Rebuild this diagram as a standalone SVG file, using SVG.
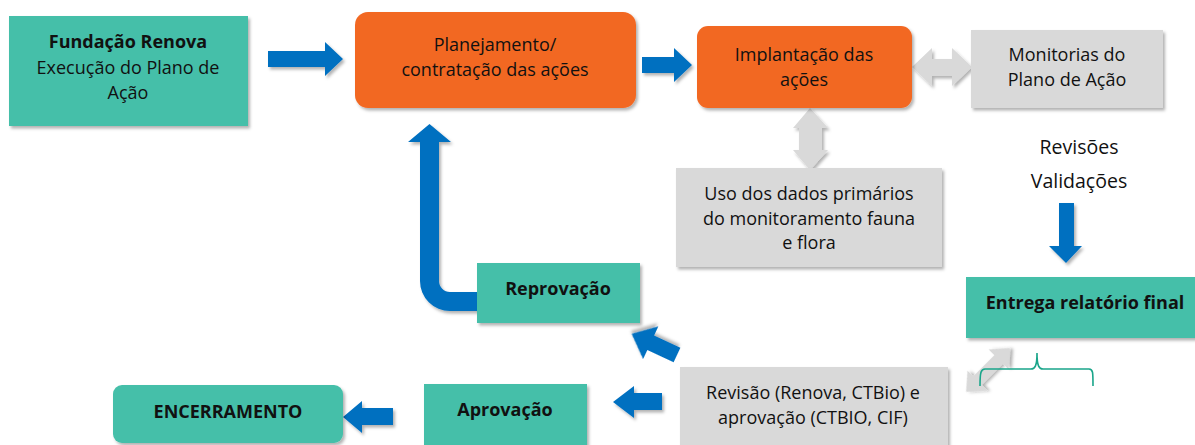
<svg xmlns="http://www.w3.org/2000/svg" width="1195" height="445" viewBox="0 0 1195 445">
<defs>
<filter id="sh" x="-10%" y="-10%" width="125%" height="130%">
<feDropShadow dx="2" dy="2.5" stdDeviation="1.5" flood-color="#000" flood-opacity="0.3"/>
</filter>
<style>
.teal{fill:#45bfa9;filter:url(#sh)}
.orange{fill:#f26722;filter:url(#sh)}
.gray{fill:#d9d9d9;filter:url(#sh)}
.blue{fill:#0070c0;filter:url(#sh)}
.garrow{fill:#d9d9d9;filter:url(#sh)}
text{font-family:"Open Sans","Liberation Sans",sans-serif;font-size:18px;fill:#111;text-anchor:middle}
.b{font-weight:bold}
.lg{font-size:19.5px}
.brace{fill:none;stroke:#1aa58a;stroke-width:1.6}
</style>
</defs>
<rect width="1195" height="445" fill="#fff"/>

<g id="connectors">
<polygon class="blue" points="268,51 325,51 325,42 343,59 325,76 325,67 268,67"/>
<polygon class="blue" points="642,57 674,57 674,48 692,65 674,82 674,73 642,73"/>
<polygon class="garrow" points="912,67 932,48 932,59 952,59 952,48 972,67 952,86 952,76 932,76 932,86"/>
<polygon class="garrow" points="810,108 828,128 822,128 822,150 828,150 810,170 793,150 799,150 799,128 793,128"/>
<polygon class="blue" points="1059,203 1074,203 1074,246 1082,246 1066,263 1049,246 1059,246"/>
<path class="blue" d="M478,311 L450,311 A30,30 0 0 1 420,281 L420,142 L408,142 L429.5,124 L451,142 L439,142 L439,281 A11,11 0 0 0 450,292 L478,292 Z"/>
<polygon class="blue" transform="translate(677,355) rotate(205)" points="0,-8 29,-8 29,-18 50,0 29,18 29,8 0,8"/>
<polygon class="blue" points="662,393 634,393 634,386 613,402 634,418 634,410 662,410"/>
<polygon class="blue" points="393,408 362,408 362,401 343,417 362,433 362,425 393,425"/>
<polygon class="garrow" transform="translate(988,370) rotate(-45)" points="-31,0 -15,-14 -15,-6 15,-6 15,-14 31,0 15,14 15,6 -15,6 -15,14"/>
<path class="brace" d="M980,386 C980,372 981,369 985,369 L1031,369 C1035,369 1037,366 1037,353 C1037,366 1039,369 1043,369 L1089,369 C1093,369 1093,372 1093,386"/>
</g>

<g id="fundacao">
<rect class="teal" x="9" y="16" width="239" height="110"/>
<text x="128" y="48" class="b">Fundação Renova</text>
<text x="128" y="74">Execução do Plano de</text>
<text x="128" y="99">Ação</text>
</g>

<g id="planejamento">
<rect class="orange" x="355" y="12" width="281" height="96" rx="13"/>
<text x="495" y="51">Planejamento/</text>
<text x="495" y="76">contratação das ações</text>
</g>

<g id="implantacao">
<rect class="orange" x="697" y="26" width="215" height="82" rx="11"/>
<text x="804" y="61">Implantação das</text>
<text x="804" y="86">ações</text>
</g>

<g id="monitorias">
<rect class="gray" x="971" y="30" width="192" height="78"/>
<text x="1067" y="61">Monitorias do</text>
<text x="1067" y="86">Plano de Ação</text>
</g>

<g id="uso">
<rect class="gray" x="676" y="168" width="266" height="99"/>
<text x="809" y="200">Uso dos dados primários</text>
<text x="809" y="224.5">do monitoramento fauna</text>
<text x="809" y="249">e flora</text>
</g>

<g id="revisoes">
<text x="1079" y="154" class="lg">Revisões</text>
<text x="1079" y="188" class="lg">Validações</text>
</g>

<g id="entrega">
<rect class="teal" x="966" y="277" width="232" height="61"/>
<text x="1085" y="309" class="b">Entrega relatório final</text>
</g>

<g id="reprovacao">
<rect class="teal" x="477" y="263" width="163" height="60"/>
<text x="558" y="295" class="b">Reprovação</text>
</g>

<g id="revisao">
<rect class="gray" x="680" y="367" width="268" height="85"/>
<text x="813" y="399">Revisão (Renova, CTBio) e</text>
<text x="813" y="424">aprovação (CTBIO, CIF)</text>
</g>

<g id="aprovacao">
<rect class="teal" x="424" y="384" width="163" height="68"/>
<text x="505" y="416" class="b">Aprovação</text>
</g>

<g id="encerramento">
<rect class="teal" x="113" y="385" width="230" height="58" rx="9"/>
<text x="228" y="418" class="b">ENCERRAMENTO</text>
</g>
</svg>
